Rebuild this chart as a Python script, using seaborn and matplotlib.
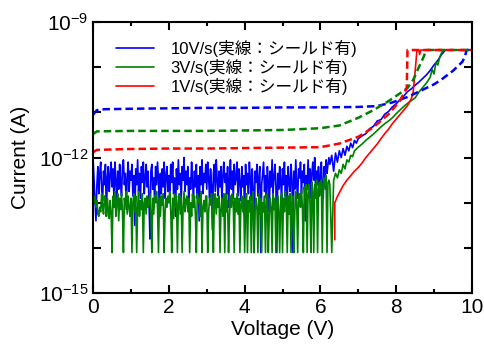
import numpy as np
import pandas as pd
import seaborn as sns
import matplotlib
matplotlib.use("Agg")
import matplotlib.pyplot as plt
from matplotlib.ticker import FixedLocator, MultipleLocator, FuncFormatter

# legend labels
labels = ["10V/s(実線：シールド有)", "3V/s(実線：シールド有)", "1V/s(実線：シールド有)"]
colors = ["#0000ff", "#008000", "#ff0000"]

# noisy part of the solid curves, log10(I), sampled every 0.025 V from 0 V
blue_noise = [
    -12.05, -12.5, -12.9, -13.4, -12.6, -12.2, -12.8, -12.35, -12.1, -12.7, -12.95, -12.3, -12.6, -12.15, -13.3, -12.45, -12.2, -12.75, -12.4, -12.1,
    -12.65, -12.25, -12.9, -12.1, -12.5, -13.05, -12.3, -12.7, -12.15, -12.55, -12.85, -12.2, -12.05, -12.6, -12.35, -13.15, -12.45, -12.1, -12.75, -12.3,
    -12.5, -12.15, -12.85, -12.4, -13.5, -12.25, -12.6, -12.05, -12.75, -12.35, -12.9, -12.2, -12.55, -12.1, -12.8, -12.45, -12.15, -12.65, -12.3, -12.95,
    -13.8, -12.3, -12.15, -12.7, -12.45, -12.95, -12.2, -12.6, -12.1, -12.5, -13.2, -12.35, -12.8, -12.25, -12.65, -12.1, -12.9, -12.4, -12.2, -12.75,
    -12.4, -12.9, -12.15, -12.55, -12.1, -12.8, -12.45, -13.3, -12.25, -12.7, -12.05, -12.6, -12.35, -12.95, -12.2, -12.5, -12.0, -12.75, -12.3, -12.6,
    -12.2, -13.0, -12.45, -12.7, -12.1, -12.55, -12.85, -12.3, -12.65, -12.15, -12.9, -12.4, -13.4, -12.2, -12.6, -12.05, -12.8, -12.35, -12.55, -12.15,
    -12.7, -12.1, -12.45, -12.9, -12.25, -12.6, -13.6, -12.35, -12.15, -12.75, -12.05, -12.5, -12.85, -12.3, -12.65, -12.2, -12.95, -12.4, -12.1, -12.55,
    -12.35, -12.8, -12.2, -13.1, -12.5, -12.05, -12.7, -12.3, -12.9, -12.15, -12.6, -12.45, -12.1, -12.85, -12.25, -12.55, -12.95, -12.2, -12.65, -12.4,
    -13.3, -12.15, -12.6, -12.35, -12.8, -12.1, -12.5, -12.95, -12.25, -12.7, -14.1, -12.3, -12.55, -12.15, -12.85, -12.45, -12.2, -14.1, -12.6, -12.35,
    -12.1, -12.75, -12.4, -12.9, -12.2, -12.55, -13.2, -12.3, -12.65, -12.05, -12.8, -12.45, -12.15, -12.6, -14.1, -12.35, -12.7, -12.2, -12.5, -12.9,
    -12.25, -12.6, -12.1, -12.85, -12.4, -13.0, -12.2, -12.55, -12.75, -12.15, -12.5, -14.1, -12.3, -12.7, -12.05, -12.6, -12.9, -12.25, -12.45, -12.1,
    -12.8, -12.3, -12.55, -12.15, -13.4, -12.4, -12.7, -12.05, -12.6, -12.25, -12.9, -12.35, -12.1, -12.5, -12.0, -12.75, -12.3, -12.6, -12.2, -12.85,
    -12.4, -12.1, -12.65, -12.9, -12.2, -12.5, -12.05, -12.35, -12.15, -12.0,
]
green_noise = [
    -12.9, -13.0, -12.85, -13.1, -12.95, -13.25, -13.3, -13.1, -13.2, -12.8, -13.1, -13.25, -12.85, -13.0, -13.3, -12.9, -13.15, -13.35, -12.95, -13.2,
    -14.1, -12.85, -13.1, -12.75, -13.3, -13.0, -12.8, -13.4, -12.9, -13.15, -12.8, -13.2, -14.1, -12.9, -13.05, -12.75, -13.25, -12.85, -13.1, -13.3,
    -12.9, -14.1, -13.0, -12.8, -13.2, -12.85, -14.1, -13.1, -12.75, -13.3, -12.95, -13.15, -12.8, -14.1, -13.0, -12.9, -13.25, -12.85, -13.1, -12.95,
    -12.8, -13.2, -14.1, -12.9, -13.25, -12.85, -13.0, -12.75, -13.1, -14.1, -12.9, -13.3, -12.85, -13.05, -12.8, -14.1, -13.2, -12.9, -13.1, -12.85,
    -13.0, -12.75, -13.2, -14.1, -12.9, -13.35, -12.8, -13.1, -12.85, -14.1, -13.0, -12.8, -13.25, -12.9, -14.1, -13.1, -12.75, -13.2, -12.95, -12.85,
    -13.2, -12.9, -14.1, -13.0, -13.3, -12.8, -13.1, -12.85, -13.25, -14.1, -12.8, -13.0, -12.9, -13.3, -12.75, -14.1, -13.1, -12.95, -13.2, -12.85,
    -12.85, -14.1, -13.2, -12.9, -13.05, -12.8, -13.3, -14.1, -13.0, -12.8, -13.25, -12.9, -13.1, -12.85, -14.1, -13.15, -12.9, -13.3, -12.8, -14.1,
    -12.8, -13.2, -12.95, -14.1, -13.3, -12.85, -13.1, -12.8, -13.0, -14.1, -12.9, -13.2, -12.8, -13.25, -12.9, -14.1, -13.05, -12.85, -13.2, -12.9,
    -14.1, -13.1, -12.8, -14.1, -12.95, -13.2, -12.85, -14.1, -13.0, -12.75, -14.1, -13.2, -12.9, -13.1, -14.1, -12.8, -13.25, -12.9, -14.1, -13.0,
    -13.2, -12.85, -14.1, -13.0, -12.8, -14.1, -13.3, -12.9, -13.1, -14.1, -12.8, -13.15, -12.9, -14.1, -13.0, -12.85, -13.2, -14.1, -12.95, -12.8,
    -14.1, -12.9, -13.2, -12.75, -13.0, -14.1, -12.85, -13.25, -12.8, -14.1, -13.0, -12.85, -14.1, -13.2, -12.75, -13.0, -14.1, -12.9, -12.8, -13.1,
    -12.7, -13.1, -14.1, -12.65, -12.9, -12.6, -14.1, -12.8, -12.6, -13.0, -14.1, -12.55, -12.75, -14.1, -12.6, -12.9, -12.5, -14.1, -12.7, -12.55,
    -12.8, -12.5, -14.1, -12.6, -12.45, -12.7, -12.4, -14.1, -12.55, -12.5,
]
noise_v = np.arange(len(blue_noise)) * 0.025

# rising part of the solid curves
blue_rise_v = [6.25, 6.3, 6.35, 6.4, 6.45, 6.5, 6.55, 6.6, 6.65, 6.7, 6.75, 6.8, 6.85, 6.9, 6.95,
               7.0, 7.1, 7.2, 7.3, 7.4, 7.5, 7.6, 7.7, 7.8, 7.9, 8.0, 8.1, 8.2, 8.3, 8.4, 8.5,
               8.6, 8.7, 8.8, 8.9, 9.0, 9.1, 9.2, 9.3, 10.0]
blue_rise_i = [-12.15, -11.95, -12.3, -11.9, -12.1, -11.85, -12.0, -11.8, -11.95, -11.75, -11.85,
               -11.68, -11.78, -11.62, -11.68, -11.58, -11.52, -11.47, -11.36, -11.31, -11.19,
               -11.16, -11.04, -10.98, -10.88, -10.81, -10.72, -10.64, -10.54, -10.48, -10.4,
               -10.33, -10.25, -10.17, -10.07, -9.95, -9.85, -9.72, -9.62, -9.62]
green_rise_v = [6.25, 6.3, 6.35, 6.4, 6.45, 6.5, 6.55, 6.6, 6.65, 6.7, 6.75, 6.8, 6.85, 6.9, 7.0,
                7.1, 7.2, 7.3, 7.4, 7.5, 7.6, 7.7, 7.8, 7.9, 8.0, 8.1, 8.2, 8.3, 8.4, 8.5, 8.6,
                8.7, 8.8, 8.9, 8.95, 9.0, 9.05, 9.1, 9.15, 9.2, 9.25, 10.0]
green_rise_i = [-12.6, -14.1, -12.5, -12.35, -12.45, -12.27, -12.35, -12.15, -12.25, -12.05,
                -12.1, -11.95, -11.98, -11.85, -11.77, -11.7, -11.62, -11.55, -11.48, -11.4,
                -11.32, -11.25, -11.19, -11.12, -11.03, -10.95, -10.87, -10.8, -10.74, -10.68,
                -10.55, -10.45, -10.35, -10.22, -10.05, -10.15, -9.9, -9.95, -9.78, -9.68,
                -9.62, -9.62]
red_v = [6.38, 6.38, 6.42, 6.46, 6.5, 6.6, 6.7, 6.8, 6.9, 7.0, 7.1, 7.2, 7.3, 7.4, 7.5, 7.6,
         7.7, 7.8, 7.9, 8.0, 8.1, 8.2, 8.3, 8.4, 8.45, 8.5, 8.55, 8.6, 8.62, 8.65, 10.0]
red_i = [-13.82, -13.0, -12.92, -12.84, -12.78, -12.62, -12.5, -12.4, -12.3, -12.22, -12.12,
         -12.0, -11.9, -11.8, -11.7, -11.58, -11.47, -11.37, -11.25, -11.15, -11.05, -10.95,
         -10.85, -10.7, -10.55, -10.1, -9.62, -9.62, -9.72, -9.62, -9.62]

# dashed curves (no shield)
blue_dash_v = [0, 0.1, 0.3, 1, 2, 3, 4, 5, 6, 7, 7.5, 7.9, 8.3, 8.7, 9.0, 9.2, 9.5, 9.75, 9.82, 9.86, 10]
blue_dash_i = [-11.05, -10.95, -10.93, -10.92, -10.91, -10.9, -10.9, -10.89, -10.89, -10.88, -10.86,
               -10.78, -10.66, -10.5, -10.38, -10.27, -10.08, -9.88, -9.75, -9.62, -9.62]
green_dash_v = [0, 0.1, 1, 2, 3, 4, 5, 5.5, 6, 6.5, 7, 7.4, 7.8, 8.1, 8.3, 8.45, 8.6, 8.7, 8.8, 10]
green_dash_i = [-11.48, -11.42, -11.41, -11.41, -11.41, -11.4, -11.39, -11.37, -11.35, -11.29,
                -11.12, -10.95, -10.75, -10.58, -10.46, -10.28, -10.0, -9.82, -9.62, -9.62]
red_dash_v = [0, 0.1, 1, 2, 3, 4, 5, 6, 6.5, 7, 7.4, 7.8, 8.1, 8.28, 8.3, 10]
red_dash_i = [-11.88, -11.83, -11.81, -11.8, -11.8, -11.79, -11.78, -11.77, -11.69, -11.54,
              -11.33, -11.04, -10.74, -10.46, -9.62, -9.62]

sns.set_style("ticks")
plt.rcParams["font.family"] = ["Liberation Sans", "Noto Sans CJK JP", "DejaVu Sans"]
plt.rcParams["mathtext.fontset"] = "custom"
plt.rcParams["mathtext.rm"] = "Liberation Sans"
plt.rcParams["mathtext.it"] = "Liberation Sans:italic"
plt.rcParams["text.color"] = "black"
plt.rcParams["axes.labelcolor"] = "black"
plt.rcParams["axes.edgecolor"] = "black"
plt.rcParams["xtick.color"] = "black"
plt.rcParams["ytick.color"] = "black"

solid = [
    (np.concatenate([noise_v, blue_rise_v]), np.concatenate([blue_noise, blue_rise_i])),
    (np.concatenate([noise_v, green_rise_v]), np.concatenate([green_noise, green_rise_i])),
    (np.array(red_v), np.array(red_i)),
]
dashed = [
    (np.array(blue_dash_v), np.array(blue_dash_i)),
    (np.array(green_dash_v), np.array(green_dash_i)),
    (np.array(red_dash_v), np.array(red_dash_i)),
]

fig = plt.figure(figsize=(4.85, 3.49), dpi=100)
ax = fig.add_axes([0.192, 0.160, 0.781, 0.777])
ax.set_yscale("log")

for (v, logi), c, lab in zip(solid, colors, labels):
    df = pd.DataFrame({"V": v, "I": 10.0 ** logi})
    sns.lineplot(data=df, x="V", y="I", color=c, lw=1.2, estimator=None, sort=False,
                 label=lab, ax=ax)
for (v, logi), c in zip(dashed, colors):
    df = pd.DataFrame({"V": v, "I": 10.0 ** logi})
    sns.lineplot(data=df, x="V", y="I", color=c, lw=1.8, linestyle=(0, (3, 1.6)),
                 estimator=None, sort=False, ax=ax)

ax.set_xlim(0, 10)
ax.set_ylim(1e-15, 1e-9)
ax.xaxis.set_major_locator(MultipleLocator(2))
ax.xaxis.set_minor_locator(MultipleLocator(1))
ax.yaxis.set_major_locator(FixedLocator([10.0 ** k for k in range(-15, -8)]))
ax.yaxis.set_minor_locator(FixedLocator([]))
ax.yaxis.set_major_formatter(FuncFormatter(
    lambda y, pos: r"$10^{%d}$" % round(np.log10(y)) if round(np.log10(y)) % 3 == 0 else ""))

ax.tick_params(which="both", direction="in", top=True, right=True, width=1.5, labelsize=15)
ax.tick_params(which="major", length=6)
ax.tick_params(which="minor", length=3)
for s in ax.spines.values():
    s.set_linewidth(1.5)

ax.set_xlabel("Voltage (V)", fontsize=15, labelpad=2)
ax.set_ylabel("Current (A)", fontsize=15, labelpad=6)

handles = ax.get_lines()[:3]
ax.legend(handles, labels, loc="upper left", bbox_to_anchor=(0.02, 0.99), frameon=False,
          fontsize=12, handlelength=2.3, handletextpad=1.0, labelspacing=0.1)

fig.savefig("out.png", dpi=100)
